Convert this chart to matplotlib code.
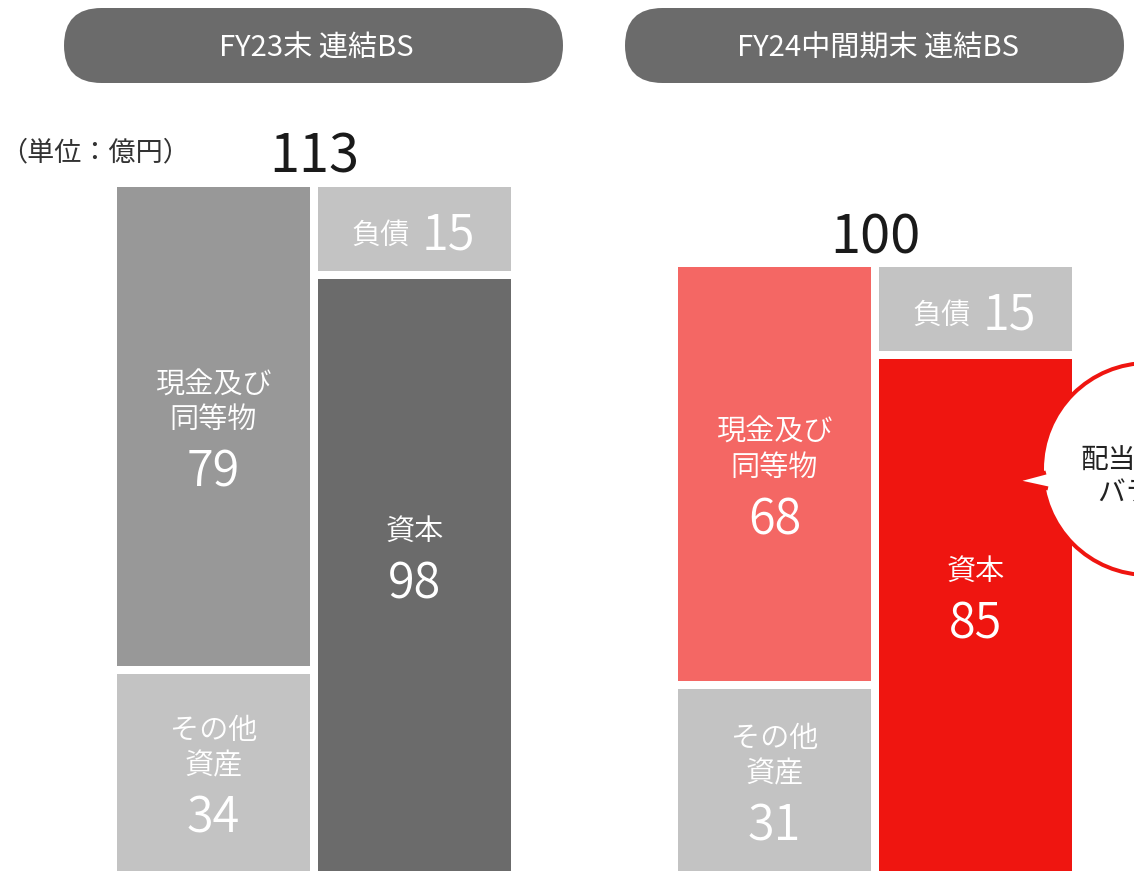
import matplotlib
matplotlib.use('Agg')
import matplotlib.pyplot as plt
from matplotlib.patches import FancyBboxPatch, Circle, Polygon
from matplotlib.lines import Line2D

plt.rcParams['font.family'] = ['Noto Sans CJK JP', 'DejaVu Sans']

# ---------------- data ----------------
titles = ['FY23末 連結BS', 'FY24中間期末 連結BS']
totals = [113, 100]
cash_label = '現金及び\n同等物'
other_label = 'その他\n資産'
liab_label = '負債'
equity_label = '資本'
cash = [79, 68.49]
other_assets = [34, 31.49]
liabilities = [15, 15]
equity = [98, 85]
unit_label = '（単位：億円）'
bubble_lines = ['配当実施による', 'バランス']

# ---------------- layout ----------------
W, H, DPI = 1134, 871, 100
PX = 72 / DPI
fig = plt.figure(figsize=(W / DPI, H / DPI), dpi=DPI)
fig.patch.set_facecolor('white')

palettes = [
    dict(cash='#989898', other='#c3c3c3', liab='#c3c3c3', equity='#6b6b6b'),
    dict(cash='#f46764', other='#c3c3c3', liab='#c3c3c3', equity='#ef1510'),
]
ax_x0 = [113, 674]
ax_w = 402
y0_px = 879
scale = 6.16
ymax = y0_px / scale
WHITE = 'white'
LBL_FS = 21
NUM_FS = 35
LBL_W = 350
NUM_W = 350


def fmt(v):
    return f'{v:.0f}'


def seg_label(ax, x, center, label, value, dy_num):
    lines = label.split('\n')
    ax.annotate(fmt(value), (x, center), xytext=(0, -(dy_num + 18) * PX),
                textcoords='offset points', ha='center', va='baseline',
                fontsize=NUM_FS, color=WHITE, fontweight=NUM_W)
    for k, line in enumerate(reversed(lines)):
        c = dy_num - 51 - 35 * k
        ax.annotate(line, (x, center), xytext=(0, -(c + 11) * PX),
                    textcoords='offset points', ha='center', va='baseline',
                    fontsize=LBL_FS, color=WHITE, fontweight=LBL_W)


for i in range(2):
    ax = fig.add_axes([ax_x0[i] / W, (H - y0_px) / H, ax_w / W, y0_px / H])
    ax.set_xlim(-0.5, 1.5)
    ax.set_ylim(0, ymax)
    ax.axis('off')
    p = palettes[i]
    kw = dict(width=1.0, edgecolor=WHITE, linewidth=8 * PX)
    ax.bar(0, other_assets[i], bottom=0, color=p['other'], **kw)
    ax.bar(0, cash[i], bottom=other_assets[i], color=p['cash'], **kw)
    ax.bar(1, equity[i], bottom=0, color=p['equity'], **kw)
    ax.bar(1, liabilities[i], bottom=equity[i], color=p['liab'], **kw)

    seg_label(ax, 0, other_assets[i] + cash[i] / 2, cash_label, cash[i], 42)
    seg_label(ax, 0, other_assets[i] / 2, other_label, other_assets[i], 40)
    seg_label(ax, 1, equity[i] / 2, equity_label, equity[i], 3)

    lc = equity[i] + liabilities[i] / 2
    ax.annotate(liab_label, (1, lc), xytext=(-5 * PX, -15 * PX),
                textcoords='offset points', ha='right', va='baseline',
                fontsize=LBL_FS, color=WHITE, fontweight=LBL_W)
    ax.annotate(fmt(liabilities[i]), (1, lc), xytext=(7.5 * PX, -20.5 * PX),
                textcoords='offset points', ha='left', va='baseline',
                fontsize=NUM_FS, color=WHITE, fontweight=NUM_W)

    ax.annotate(fmt(totals[i]), (0.5, totals[i]), xytext=(0, 10 * PX),
                textcoords='offset points', ha='center', va='baseline',
                fontsize=39, color='#1a1a1a')

# ---------------- overlay (headers, unit, bubble) ----------------
ov = fig.add_axes([0, 0, 1, 1], zorder=5)
ov.set_xlim(0, W)
ov.set_ylim(H, 0)
ov.axis('off')
ov.patch.set_alpha(0)

pill_x = [64, 625]
title_cx = [316, 878]
for i in range(2):
    ov.add_patch(FancyBboxPatch((pill_x[i], 8), 499, 75,
                                boxstyle='round,pad=0,rounding_size=37.5',
                                fc='#6b6b6b', ec='none'))
    ov.text(title_cx[i], 57, titles[i], ha='center', va='baseline',
            fontsize=21, color=WHITE)

ov.text(0, 160, unit_label, ha='left', va='baseline', fontsize=19.5, color='#333333')

RED = '#ef1510'
ov.add_patch(Circle((1148, 469), 106, fc=WHITE, ec=RED, lw=4 * PX, zorder=3))
ov.add_patch(Polygon([(1014, 481), (1043, 473), (1060, 472), (1060, 489), (1045, 488)],
                     closed=True, fc=WHITE, ec='none', zorder=4))
ov.add_line(Line2D([1044, 1014, 1046], [473, 481, 488], color=RED, lw=4 * PX,
                   solid_joinstyle='miter', zorder=5))
ov.text(1080, 468, bubble_lines[0], ha='left', va='baseline', fontsize=20,
        color='#222222', zorder=6)
ov.text(1097, 501, bubble_lines[1], ha='left', va='baseline', fontsize=20,
        color='#222222', zorder=6)

fig.savefig('out.png', dpi=DPI)
